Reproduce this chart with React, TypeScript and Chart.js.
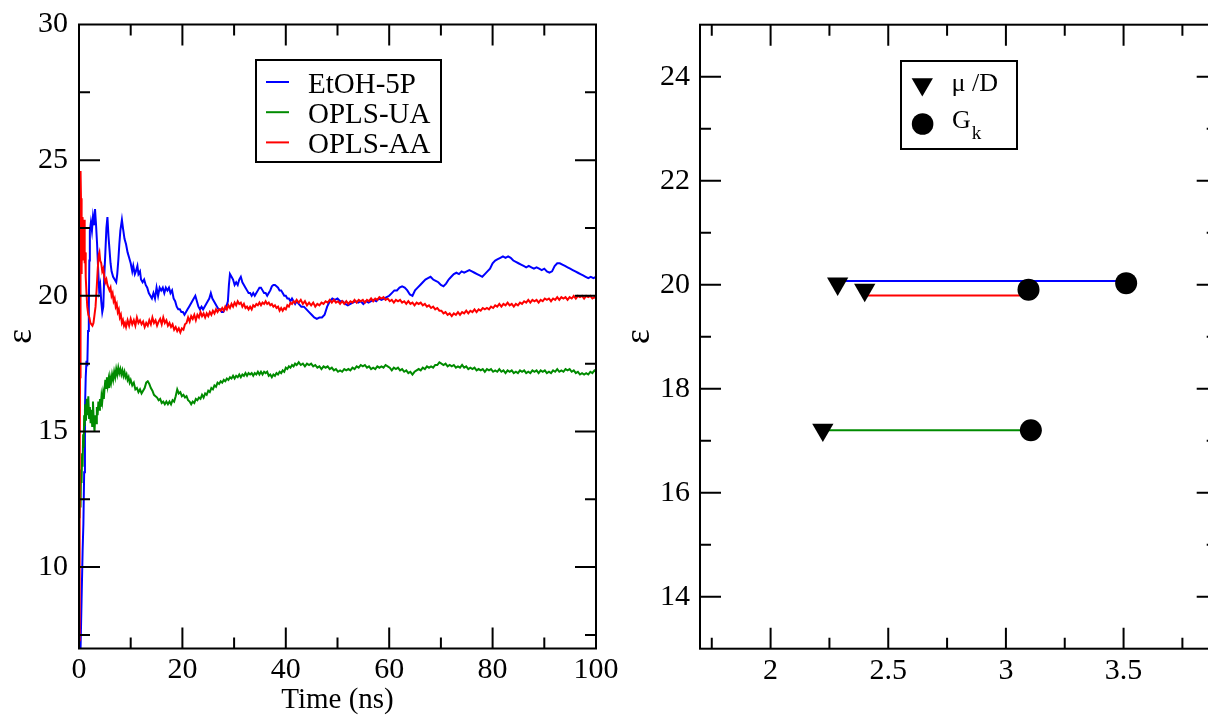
import React, { useEffect, useRef } from 'react';
import { Chart, registerables } from 'chart.js';

Chart.register(...registerables);

const SERIF = "'Liberation Serif', 'Times New Roman', Times, serif";

// ---------------- Left panel: running dielectric constant ----------------
const SERIES_LABELS = ['EtOH-5P', 'OPLS-UA', 'OPLS-AA'];
const SERIES_COLORS = ['#0000ff', '#008b00', '#ff0000'];
const TIME_TICKS = [0, 20, 40, 60, 80, 100];
const TIME_MINOR = [10, 30, 50, 70, 90];
const EPS_TICKS_LEFT = [10, 15, 20, 25, 30];
const EPS_MINOR_LEFT = [7.5, 12.5, 17.5, 22.5, 27.5];

const etoh5p: [number, number][] = [
  [0.1,5.0],[0.3,7.0],[0.5,8.8],[0.7,10.6],[0.85,11.6],[1.0,13.5],[1.15,15.8],[1.3,17.0],[1.45,17.6],[1.6,17.4],
  [1.75,18.7],[1.9,19.5],[2.0,21.3],[2.1,22.4],[2.3,22.7],[2.5,22.4],[2.7,22.9],[2.9,22.6],[3.1,23.2],[3.3,22.6],
  [3.5,21.9],[3.7,21.0],[3.9,20.2],[4.1,20.4],[4.3,19.8],[4.5,19.4],[4.7,19.6],[4.9,20.8],[5.1,21.6],[5.3,22.5],
  [5.5,22.9],[5.7,22.2],[5.9,21.7],[6.1,21.2],[6.3,20.9],[6.6,20.7],[6.9,20.6],[7.2,20.5],[7.4,20.8],[7.6,21.3],
  [7.8,21.9],[8.0,22.4],[8.3,22.8],[8.5,22.5],[8.8,22.1],[9.1,21.9],[9.4,21.6],[9.7,21.4],[10.0,21.2],[10.3,20.9],
  [10.5,21.1],[10.8,20.8],[11.0,20.9],[11.3,21.1],[11.5,20.8],[11.8,20.9],[12.0,20.6],[12.3,20.5],[12.6,20.6],[12.9,20.4],
  [13.2,20.3],[13.5,20.1],[13.8,20.0],[14.1,19.9],[14.4,20.1],[14.7,19.9],[15.0,20.3],[15.3,20.0],[15.6,20.3],[15.9,20.2],
  [16.2,20.3],[16.5,20.1],[16.8,20.3],[17.1,20.2],[17.4,20.3],[17.7,20.1],[18.0,20.2],[18.3,19.9],[18.6,19.8],[18.9,19.6],
  [19.2,19.5],[19.5,19.5],[19.8,19.4],[20.1,19.4],[20.4,19.3],[20.7,19.4],[21.0,19.5],[21.3,19.6],[21.6,19.7],[21.9,19.8],
  [22.2,19.9],[22.5,20.0],[22.8,19.8],[23.1,19.6],[23.4,19.5],[23.7,19.6],[24.0,19.5],[24.3,19.6],[24.6,19.7],[24.9,19.8],
  [25.2,19.9],[25.5,20.1],[25.8,19.9],[26.1,19.8],[26.4,19.7],[26.7,19.6],[27.0,19.5],[27.3,19.5],[27.6,19.4],[27.9,19.4],
  [28.2,19.5],[28.5,19.6],[28.8,19.8],[29.0,20.4],[29.2,20.8],[29.5,20.7],[29.8,20.6],[30.1,20.4],[30.4,20.5],[30.7,20.4],
  [31.0,20.6],[31.3,20.7],[31.6,20.5],[31.9,20.4],[32.2,20.3],[32.5,20.2],[32.8,20.1],[33.1,20.1],[33.4,20.0],[33.7,20.1],
  [34.0,20.0],[34.3,20.1],[34.6,20.2],[34.9,20.3],[35.2,20.3],[35.5,20.2],[35.8,20.1],[36.1,20.1],[36.4,20.0],[36.7,20.1],
  [37.0,20.2],[37.3,20.35],[37.6,20.4],[37.9,20.4],[38.2,20.35],[38.5,20.3],[38.8,20.2],[39.1,20.2],[39.4,20.1],[39.7,20.0],
  [40.0,20.0],[40.3,19.9],[40.6,19.9],[40.9,19.8],[41.2,19.9],[41.5,19.8],[41.8,19.7],[42.1,19.8],[42.5,19.7],[43.0,19.6],
  [43.5,19.6],[44.0,19.5],[44.5,19.4],[45.0,19.3],[45.5,19.2],[46.0,19.15],[46.5,19.2],[47.0,19.2],[47.5,19.3],[48.0,19.6],
  [48.5,19.8],[49.0,19.9],[49.5,19.85],[50.0,19.9],[50.5,19.8],[51.0,19.8],[51.5,19.7],[52.0,19.65],[52.5,19.7],[53.0,19.75],
  [53.5,19.8],[54.0,19.75],[54.5,19.8],[55.0,19.7],[55.5,19.8],[56.0,19.75],[56.5,19.8],[57.0,19.85],[57.5,19.8],[58.0,19.9],
  [58.5,19.85],[59.0,19.9],[59.5,19.95],[60.0,20.0],[60.5,20.1],[61.0,20.2],[61.5,20.2],[62.0,20.3],[62.5,20.35],[63.0,20.3],
  [63.5,20.2],[64.0,20.05],[64.5,20.0],[65.0,20.2],[65.5,20.3],[66.0,20.4],[66.5,20.5],[67.0,20.6],[67.5,20.65],[68.0,20.7],
  [68.5,20.6],[69.0,20.55],[69.5,20.5],[70.0,20.4],[70.5,20.35],[71.0,20.45],[71.5,20.6],[72.0,20.7],[72.5,20.8],[73.0,20.85],
  [73.5,20.8],[74.0,20.9],[74.5,20.85],[75.0,20.9],[75.5,20.95],[76.0,20.9],[76.5,20.85],[77.0,20.8],[77.5,20.75],[78.0,20.7],
  [78.5,20.8],[79.0,20.9],[79.5,21.0],[80.0,21.2],[80.5,21.3],[81.0,21.35],[81.5,21.4],[82.0,21.45],[82.5,21.4],[83.0,21.45],
  [83.5,21.4],[84.0,21.3],[84.5,21.25],[85.0,21.2],[85.5,21.15],[86.0,21.1],[86.5,21.05],[87.0,21.1],[87.5,21.05],[88.0,21.0],
  [88.5,21.05],[89.0,21.0],[89.5,20.95],[90.0,21.0],[90.5,20.9],[91.0,20.85],[91.5,20.9],[92.0,21.1],[92.5,21.2],[93.0,21.2],
  [93.5,21.15],[94.0,21.1],[94.5,21.05],[95.0,21.0],[95.5,20.95],[96.0,20.9],[96.5,20.85],[97.0,20.8],[97.5,20.75],[98.0,20.7],
  [98.5,20.65],[99.0,20.7],[99.5,20.65],[100.0,20.7],
];

const oplsUA: [number, number][] = [
  [0.0,12.0],[0.1,11.8],[0.2,12.6],[0.3,12.2],[0.4,13.6],[0.5,13.1],[0.6,14.2],[0.7,13.7],[0.8,14.9],[0.9,14.4],
  [1.0,15.6],[1.1,15.2],[1.2,16.0],[1.35,15.4],[1.5,16.2],[1.65,15.6],[1.8,16.3],[1.95,15.5],[2.1,15.9],[2.25,15.3],
  [2.4,15.8],[2.55,15.2],[2.7,16.1],[2.85,15.4],[3.0,15.0],[3.15,15.6],[3.3,15.3],[3.45,15.9],[3.6,15.6],[3.75,16.1],
  [3.9,15.8],[4.05,16.2],[4.2,15.9],[4.35,16.3],[4.5,16.1],[4.65,16.4],[4.8,16.2],[4.95,16.6],[5.1,16.9],[5.25,16.6],
  [5.4,17.0],[5.55,16.7],[5.7,16.9],[5.85,16.6],[6.0,17.0],[6.2,16.8],[6.4,17.1],[6.6,16.9],[6.8,17.2],[7.0,17.0],
  [7.2,17.3],[7.4,17.1],[7.6,17.35],[7.8,17.15],[8.0,17.3],[8.2,17.1],[8.4,17.25],[8.6,17.05],[8.8,17.2],[9.0,17.0],
  [9.2,17.1],[9.4,16.9],[9.6,17.0],[9.8,16.8],[10.0,16.9],[10.3,16.7],[10.6,16.8],[10.9,16.55],[11.2,16.6],[11.5,16.45],
  [11.8,16.55],[12.1,16.4],[12.4,16.5],[12.7,16.6],[13.0,16.8],[13.3,16.85],[13.6,16.75],[13.9,16.6],[14.2,16.5],[14.5,16.35],
  [14.8,16.3],[15.1,16.25],[15.4,16.15],[15.7,16.2],[16.0,16.05],[16.3,16.1],[16.6,16.0],[16.9,16.1],[17.2,16.0],[17.5,16.1],
  [17.8,16.0],[18.1,16.15],[18.4,16.1],[18.7,16.3],[19.0,16.55],[19.3,16.4],[19.6,16.45],[19.9,16.3],[20.2,16.35],[20.5,16.25],
  [20.8,16.3],[21.1,16.15],[21.4,16.1],[21.7,16.0],[22.0,16.1],[22.3,16.05],[22.6,16.2],[22.9,16.15],[23.2,16.25],[23.5,16.2],
  [23.8,16.35],[24.1,16.25],[24.4,16.4],[24.7,16.35],[25.0,16.5],[25.3,16.45],[25.6,16.6],[25.9,16.55],[26.2,16.7],[26.5,16.65],
  [26.8,16.8],[27.1,16.75],[27.4,16.85],[27.7,16.8],[28.0,16.9],[28.3,16.85],[28.6,16.95],[28.9,16.9],[29.2,17.0],[29.5,16.95],
  [29.8,17.05],[30.1,16.95],[30.4,17.05],[30.7,17.0],[31.0,17.1],[31.3,17.0],[31.6,17.1],[31.9,17.05],[32.2,17.15],[32.5,17.05],
  [32.8,17.15],[33.1,17.1],[33.4,17.15],[33.7,17.05],[34.0,17.15],[34.3,17.1],[34.6,17.2],[34.9,17.1],[35.2,17.2],[35.5,17.1],
  [35.8,17.2],[36.1,17.15],[36.4,17.2],[36.7,17.05],[37.0,17.1],[37.3,17.0],[37.6,17.1],[37.9,17.05],[38.2,17.15],[38.5,17.1],
  [38.8,17.2],[39.1,17.15],[39.4,17.25],[39.7,17.2],[40.0,17.35],[40.3,17.3],[40.6,17.4],[40.9,17.35],[41.2,17.45],[41.5,17.4],
  [41.8,17.5],[42.1,17.45],[42.5,17.55],[42.9,17.45],[43.3,17.5],[43.7,17.4],[44.1,17.5],[44.5,17.45],[44.9,17.5],[45.3,17.4],
  [45.7,17.45],[46.1,17.35],[46.5,17.4],[46.9,17.3],[47.3,17.4],[47.7,17.35],[48.1,17.4],[48.5,17.3],[48.9,17.35],[49.3,17.25],
  [49.7,17.3],[50.1,17.2],[50.5,17.25],[50.9,17.2],[51.3,17.3],[51.7,17.25],[52.1,17.3],[52.5,17.25],[52.9,17.35],[53.3,17.3],
  [53.7,17.4],[54.1,17.35],[54.5,17.45],[54.9,17.4],[55.3,17.45],[55.7,17.35],[56.1,17.4],[56.5,17.3],[56.9,17.35],[57.3,17.3],
  [57.7,17.4],[58.1,17.35],[58.5,17.4],[58.9,17.35],[59.3,17.45],[59.7,17.4],[60.1,17.35],[60.5,17.25],[60.9,17.35],[61.3,17.3],
  [61.7,17.35],[62.1,17.25],[62.5,17.3],[62.9,17.2],[63.3,17.25],[63.7,17.15],[64.1,17.2],[64.5,17.1],[64.9,17.2],[65.3,17.25],
  [65.7,17.3],[66.1,17.25],[66.5,17.35],[66.9,17.3],[67.3,17.4],[67.7,17.35],[68.1,17.4],[68.5,17.35],[68.9,17.45],[69.3,17.45],
  [69.7,17.55],[70.1,17.5],[70.5,17.45],[70.9,17.5],[71.3,17.4],[71.7,17.45],[72.1,17.4],[72.5,17.45],[72.9,17.35],[73.3,17.4],
  [73.7,17.35],[74.1,17.45],[74.5,17.35],[74.9,17.4],[75.3,17.3],[75.7,17.35],[76.1,17.3],[76.5,17.35],[76.9,17.25],[77.3,17.3],
  [77.7,17.25],[78.1,17.3],[78.5,17.2],[78.9,17.3],[79.3,17.25],[79.7,17.3],[80.1,17.2],[80.5,17.25],[80.9,17.2],[81.3,17.3],
  [81.7,17.2],[82.1,17.25],[82.5,17.15],[82.9,17.25],[83.3,17.2],[83.7,17.25],[84.1,17.15],[84.5,17.2],[84.9,17.15],[85.3,17.25],
  [85.7,17.2],[86.1,17.25],[86.5,17.15],[86.9,17.2],[87.3,17.15],[87.7,17.25],[88.1,17.2],[88.5,17.25],[88.9,17.15],[89.3,17.25],
  [89.7,17.2],[90.1,17.25],[90.5,17.15],[90.9,17.2],[91.3,17.15],[91.7,17.25],[92.1,17.2],[92.5,17.3],[92.9,17.2],[93.3,17.25],
  [93.7,17.2],[94.1,17.3],[94.5,17.25],[94.9,17.3],[95.3,17.2],[95.7,17.25],[96.1,17.15],[96.5,17.2],[96.9,17.1],[97.3,17.15],
  [97.7,17.1],[98.1,17.15],[98.5,17.1],[98.9,17.2],[99.3,17.15],[99.7,17.25],[100.0,17.2],
];

const oplsAA: [number, number][] = [
  [0.0,7.3],[0.1,10.5],[0.15,13.0],[0.2,17.0],[0.27,22.0],[0.33,24.6],[0.4,23.4],[0.45,20.8],[0.5,23.6],[0.57,21.0],
  [0.63,22.9],[0.7,21.3],[0.8,22.8],[0.9,21.9],[1.0,22.8],[1.1,21.2],[1.2,21.6],[1.3,20.7],[1.45,20.1],[1.6,19.6],
  [1.8,19.3],[2.0,19.2],[2.2,19.0],[2.4,18.95],[2.6,18.9],[2.8,19.0],[3.0,19.3],[3.2,19.6],[3.4,20.2],[3.6,20.9],
  [3.8,21.5],[3.95,21.6],[4.1,21.3],[4.3,21.2],[4.5,20.9],[4.7,21.0],[4.9,20.7],[5.1,20.5],[5.3,20.6],[5.5,20.4],
  [5.7,20.3],[5.9,20.2],[6.1,20.3],[6.3,20.0],[6.5,20.1],[6.7,19.8],[6.9,19.9],[7.1,19.6],[7.3,19.7],[7.5,19.4],
  [7.7,19.5],[7.9,19.2],[8.1,19.3],[8.3,19.0],[8.5,19.1],[8.7,18.9],[8.9,19.0],[9.1,18.85],[9.4,19.1],[9.7,18.9],
  [10.0,19.15],[10.3,18.95],[10.6,19.1],[10.9,18.9],[11.2,19.2],[11.5,19.0],[11.8,19.1],[12.1,18.95],[12.4,19.05],[12.7,18.85],
  [13.0,19.0],[13.3,18.9],[13.6,19.1],[13.9,18.95],[14.2,19.2],[14.5,19.0],[14.8,19.1],[15.1,18.9],[15.4,19.05],[15.7,19.15],
  [16.0,18.95],[16.3,19.2],[16.6,19.0],[16.9,19.1],[17.2,18.9],[17.5,19.0],[17.8,18.85],[18.1,18.95],[18.4,18.75],[18.7,18.85],
  [19.0,18.7],[19.3,18.8],[19.6,18.65],[19.9,18.8],[20.2,18.75],[20.5,18.95],[20.8,19.0],[21.1,19.2],[21.4,19.05],[21.7,19.25],
  [22.0,19.15],[22.3,19.3],[22.6,19.1],[22.9,19.3],[23.2,19.2],[23.5,19.4],[23.8,19.25],[24.1,19.35],[24.4,19.2],[24.7,19.35],
  [25.0,19.25],[25.3,19.4],[25.6,19.3],[25.9,19.45],[26.2,19.35],[26.5,19.5],[26.8,19.4],[27.1,19.5],[27.4,19.45],[27.7,19.55],
  [28.0,19.45],[28.3,19.6],[28.6,19.5],[28.9,19.65],[29.2,19.55],[29.5,19.7],[29.8,19.6],[30.1,19.75],[30.4,19.65],[30.7,19.8],
  [31.0,19.7],[31.3,19.75],[31.6,19.6],[31.9,19.7],[32.2,19.55],[32.5,19.6],[32.8,19.5],[33.1,19.6],[33.4,19.5],[33.7,19.65],
  [34.0,19.6],[34.3,19.7],[34.6,19.65],[34.9,19.75],[35.2,19.65],[35.5,19.75],[35.8,19.7],[36.1,19.8],[36.4,19.7],[36.7,19.75],
  [37.0,19.65],[37.3,19.7],[37.6,19.6],[37.9,19.65],[38.2,19.55],[38.5,19.6],[38.8,19.45],[39.1,19.55],[39.4,19.45],[39.7,19.55],
  [40.0,19.5],[40.3,19.65],[40.6,19.6],[40.9,19.75],[41.2,19.7],[41.5,19.8],[41.8,19.75],[42.1,19.85],[42.5,19.75],[42.9,19.85],
  [43.3,19.7],[43.7,19.8],[44.1,19.65],[44.5,19.75],[44.9,19.65],[45.3,19.75],[45.7,19.6],[46.1,19.7],[46.5,19.65],[46.9,19.75],
  [47.3,19.7],[47.7,19.8],[48.1,19.75],[48.5,19.85],[48.9,19.75],[49.3,19.85],[49.7,19.75],[50.1,19.8],[50.5,19.7],[50.9,19.8],
  [51.3,19.7],[51.7,19.8],[52.1,19.7],[52.5,19.8],[52.9,19.75],[53.3,19.85],[53.7,19.75],[54.1,19.85],[54.5,19.8],[54.9,19.85],
  [55.3,19.75],[55.7,19.85],[56.1,19.8],[56.5,19.9],[56.9,19.8],[57.3,19.9],[57.7,19.85],[58.1,19.95],[58.5,19.9],[58.9,19.95],
  [59.3,19.85],[59.7,19.9],[60.1,19.8],[60.5,19.85],[60.9,19.75],[61.3,19.85],[61.7,19.8],[62.1,19.85],[62.5,19.75],[62.9,19.8],
  [63.3,19.7],[63.7,19.8],[64.1,19.7],[64.5,19.75],[64.9,19.65],[65.3,19.75],[65.7,19.7],[66.1,19.75],[66.5,19.65],[66.9,19.7],
  [67.3,19.6],[67.7,19.65],[68.1,19.55],[68.5,19.6],[68.9,19.5],[69.3,19.55],[69.7,19.45],[70.1,19.45],[70.5,19.35],[70.9,19.4],
  [71.3,19.3],[71.7,19.35],[72.1,19.25],[72.5,19.35],[72.9,19.3],[73.3,19.4],[73.7,19.3],[74.1,19.4],[74.5,19.35],[74.9,19.45],
  [75.3,19.35],[75.7,19.45],[76.1,19.4],[76.5,19.5],[76.9,19.4],[77.3,19.5],[77.7,19.45],[78.1,19.55],[78.5,19.5],[78.9,19.55],
  [79.3,19.5],[79.7,19.6],[80.1,19.55],[80.5,19.65],[80.9,19.6],[81.3,19.7],[81.7,19.6],[82.1,19.7],[82.5,19.65],[82.9,19.75],
  [83.3,19.65],[83.7,19.7],[84.1,19.6],[84.5,19.7],[84.9,19.65],[85.3,19.75],[85.7,19.7],[86.1,19.8],[86.5,19.75],[86.9,19.85],
  [87.3,19.75],[87.7,19.85],[88.1,19.8],[88.5,19.85],[88.9,19.75],[89.3,19.85],[89.7,19.8],[90.1,19.9],[90.5,19.85],[90.9,19.9],
  [91.3,19.8],[91.7,19.9],[92.1,19.85],[92.5,19.95],[92.9,19.85],[93.3,19.95],[93.7,19.9],[94.1,19.95],[94.5,19.85],[94.9,19.95],
  [95.3,19.9],[95.7,20.0],[96.1,19.9],[96.5,20.0],[96.9,19.95],[97.3,20.0],[97.7,19.9],[98.1,20.0],[98.5,19.95],[98.9,20.0],
  [99.3,19.9],[99.7,19.95],[100.0,19.9],
];

// ---------------- Right panel: epsilon vs dipole moment / Gk ----------------
const MODEL_COLORS = ['#0000ff', '#008b00', '#ff0000']; // EtOH-5P, OPLS-UA, OPLS-AA
const dipoleMu = [2.285, 2.222, 2.40];
const epsAtMu = [20.02, 17.21, 19.9];
const kirkwoodGk = [3.511, 3.106, 3.096];
const epsAtGk = [20.03, 17.2, 19.905];
const linkStart = [2.283, 2.226, 2.396];
const linkEnd = [3.513, 3.109, 3.103];
const linkEps = [20.07, 17.2, 19.79];
const X_TICKS_RIGHT = [2, 2.5, 3, 3.5];
const X_MINOR_RIGHT = [1.75, 2.25, 2.75, 3.25, 3.75];
const EPS_TICKS_RIGHT = [14, 16, 18, 20, 22, 24];
const EPS_MINOR_RIGHT = [15, 17, 19, 21, 23];

// ---------------- helpers ----------------
function framePlugin(cfg: { xMajor: number[]; xMinor: number[]; yMajor: number[]; yMinor: number[] }) {
  return {
    id: 'frameTicks',
    afterDatasetsDraw(chart: any) {
      const { ctx, chartArea: a, scales } = chart;
      const xs = scales.x;
      const ys = scales.y;
      ctx.save();
      ctx.strokeStyle = '#000';
      ctx.lineWidth = 2;
      ctx.lineCap = 'butt';
      ctx.beginPath();
      const hx = (vals: number[], len: number) => {
        for (const v of vals) {
          const p = xs.getPixelForValue(v);
          if (p <= a.left + 1 || p >= a.right - 1) continue;
          ctx.moveTo(p, a.bottom);
          ctx.lineTo(p, a.bottom - len);
          ctx.moveTo(p, a.top);
          ctx.lineTo(p, a.top + len);
        }
      };
      const hy = (vals: number[], len: number) => {
        for (const v of vals) {
          const p = ys.getPixelForValue(v);
          if (p <= a.top + 1 || p >= a.bottom - 1) continue;
          ctx.moveTo(a.left, p);
          ctx.lineTo(a.left + len, p);
          ctx.moveTo(a.right, p);
          ctx.lineTo(a.right - len, p);
        }
      };
      hx(cfg.xMajor, 21);
      hx(cfg.xMinor, 11);
      hy(cfg.yMajor, 21);
      hy(cfg.yMinor, 11);
      ctx.stroke();
      ctx.strokeRect(a.left, a.top, a.right - a.left, a.bottom - a.top);
      ctx.restore();
    },
  };
}

const leftLegendPlugin = {
  id: 'leftLegend',
  afterDraw(chart: any) {
    const { ctx } = chart;
    ctx.save();
    ctx.fillStyle = '#fff';
    ctx.fillRect(256, 60, 185, 102);
    ctx.strokeStyle = '#000';
    ctx.lineWidth = 2;
    ctx.strokeRect(256, 60, 185, 102);
    ctx.font = `29px ${SERIF}`;
    ctx.textBaseline = 'alphabetic';
    ctx.textAlign = 'left';
    SERIES_LABELS.forEach((label, i) => {
      const cy = 82 + i * 30.2;
      ctx.strokeStyle = SERIES_COLORS[i];
      ctx.lineWidth = 2;
      ctx.beginPath();
      ctx.moveTo(266, cy);
      ctx.lineTo(289, cy);
      ctx.stroke();
      ctx.fillStyle = '#000';
      ctx.fillText(label, 308, cy + 11);
    });
    ctx.restore();
  },
};

const rightLegendPlugin = {
  id: 'rightLegend',
  afterDraw(chart: any) {
    const { ctx } = chart;
    ctx.save();
    ctx.fillStyle = '#fff';
    ctx.fillRect(301, 61, 116, 88);
    ctx.strokeStyle = '#000';
    ctx.lineWidth = 2;
    ctx.strokeRect(301, 61, 116, 88);
    // triangle symbol
    const r = 12.3;
    const tx = 322.3, ty = 84.3;
    ctx.fillStyle = '#000';
    ctx.beginPath();
    ctx.moveTo(tx, ty + r);
    ctx.lineTo(tx - r * Math.sin(Math.PI / 3), ty - r / 2);
    ctx.lineTo(tx + r * Math.sin(Math.PI / 3), ty - r / 2);
    ctx.closePath();
    ctx.fill();
    // circle symbol
    ctx.beginPath();
    ctx.arc(322.6, 124, 10.8, 0, Math.PI * 2);
    ctx.fill();
    ctx.textBaseline = 'alphabetic';
    ctx.textAlign = 'left';
    ctx.font = `26px ${SERIF}`;
    ctx.fillText('\u03BC /D', 351.5, 90.7);
    ctx.fillText('G', 352, 128.3);
    const gw = ctx.measureText('G').width;
    ctx.font = `19px ${SERIF}`;
    ctx.fillText('k', 352 + gw + 1, 139.3);
    ctx.restore();
  },
};

function zeroPad(s: any) {
  s.paddingLeft = 0;
  s.paddingRight = 0;
  s.paddingTop = 0;
  s.paddingBottom = 0;
}

const tickFont = { family: SERIF, size: 30 };
const epsTitleFont = { family: SERIF, size: 35, lineHeight: 1 };

function leftConfig(): any {
  const series = [etoh5p, oplsUA, oplsAA];
  const orders = [3, 2, 1];
  return {
    type: 'scatter',
    data: {
      datasets: series.map((pts, i) => ({
        label: SERIES_LABELS[i],
        data: pts.map(([x, y]) => ({ x, y })),
        showLine: true,
        borderColor: SERIES_COLORS[i],
        backgroundColor: SERIES_COLORS[i],
        borderWidth: 2,
        pointRadius: 0,
        tension: 0,
        order: orders[i],
      })),
    },
    options: {
      animation: false,
      responsive: false,
      devicePixelRatio: 1,
      layout: { padding: { left: 0, top: 24.5, right: 44, bottom: 0 } },
      plugins: { legend: { display: false }, tooltip: { enabled: false } },
      scales: {
        x: {
          type: 'linear',
          min: 0,
          max: 100,
          grid: { display: false, drawTicks: false },
          border: { display: false },
          ticks: { font: tickFont, color: '#000', padding: 4, maxRotation: 0, autoSkip: false, callback: (v: any) => String(v) },
          title: { display: true, text: 'Time (ns)', color: '#000', font: { family: SERIF, size: 29, lineHeight: 1 }, padding: { top: 0, bottom: 2 } },
          afterBuildTicks: (s: any) => { s.ticks = TIME_TICKS.map((value) => ({ value })); },
          afterFit: (s: any) => { s.height = 717 - 648.5; zeroPad(s); },
        },
        y: {
          type: 'linear',
          min: 7,
          max: 30,
          grid: { display: false, drawTicks: false },
          border: { display: false },
          ticks: { font: tickFont, color: '#000', padding: 11, autoSkip: false, callback: (v: any) => String(v) },
          title: { display: true, text: '\u03B5', color: '#000', font: epsTitleFont, padding: { top: 4, bottom: 0 } },
          afterBuildTicks: (s: any) => { s.ticks = EPS_TICKS_LEFT.map((value) => ({ value })); },
          afterFit: (s: any) => { s.width = 79; zeroPad(s); },
        },
      },
    },
    plugins: [
      framePlugin({ xMajor: TIME_TICKS, xMinor: TIME_MINOR, yMajor: EPS_TICKS_LEFT, yMinor: EPS_MINOR_LEFT }),
      leftLegendPlugin,
    ],
  };
}

function rightConfig(): any {
  const links = MODEL_COLORS.map((c, i) => ({
    label: 'link' + i,
    data: [
      { x: linkStart[i], y: linkEps[i] },
      { x: linkEnd[i], y: linkEps[i] },
    ],
    showLine: true,
    borderColor: c,
    backgroundColor: c,
    borderWidth: 2,
    pointRadius: 0,
    order: 3,
  }));
  return {
    type: 'scatter',
    data: {
      datasets: [
        ...links,
        {
          label: '\u03BC /D',
          data: dipoleMu.map((x, i) => ({ x, y: epsAtMu[i] })),
          showLine: false,
          pointStyle: 'triangle',
          rotation: 180,
          pointRadius: 12.3,
          pointBorderWidth: 0,
          backgroundColor: '#000',
          borderColor: '#000',
          order: 1,
        },
        {
          label: 'Gk',
          data: kirkwoodGk.map((x, i) => ({ x, y: epsAtGk[i] })),
          showLine: false,
          pointStyle: 'circle',
          pointRadius: 11,
          pointBorderWidth: 0,
          backgroundColor: '#000',
          borderColor: '#000',
          order: 2,
        },
      ],
    },
    options: {
      animation: false,
      responsive: false,
      devicePixelRatio: 1,
      layout: { padding: { left: 0, top: 24.7, right: 11.5, bottom: 0 } },
      plugins: { legend: { display: false }, tooltip: { enabled: false } },
      scales: {
        x: {
          type: 'linear',
          min: 1.7,
          max: 3.9,
          grid: { display: false, drawTicks: false },
          border: { display: false },
          ticks: { font: tickFont, color: '#000', padding: 4, maxRotation: 0, autoSkip: false, callback: (v: any) => String(v) },
          afterBuildTicks: (s: any) => { s.ticks = X_TICKS_RIGHT.map((value) => ({ value })); },
          afterFit: (s: any) => { s.height = 717 - 648.7; zeroPad(s); },
        },
        y: {
          type: 'linear',
          min: 13,
          max: 25,
          grid: { display: false, drawTicks: false },
          border: { display: false },
          ticks: { font: tickFont, color: '#000', padding: 10, autoSkip: false, callback: (v: any) => String(v) },
          title: { display: true, text: '\u03B5', color: '#000', font: epsTitleFont, padding: { top: 22, bottom: 0 } },
          afterBuildTicks: (s: any) => { s.ticks = EPS_TICKS_RIGHT.map((value) => ({ value })); },
          afterFit: (s: any) => { s.width = 100; zeroPad(s); },
        },
      },
    },
    plugins: [
      framePlugin({ xMajor: X_TICKS_RIGHT, xMinor: X_MINOR_RIGHT, yMajor: EPS_TICKS_RIGHT, yMinor: EPS_MINOR_RIGHT }),
      rightLegendPlugin,
    ],
  };
}

export default function App() {
  const leftRef = useRef<HTMLCanvasElement>(null);
  const rightRef = useRef<HTMLCanvasElement>(null);

  useEffect(() => {
    const c1 = new Chart(leftRef.current as HTMLCanvasElement, leftConfig());
    const c2 = new Chart(rightRef.current as HTMLCanvasElement, rightConfig());
    return () => {
      c1.destroy();
      c2.destroy();
    };
  }, []);

  return (
    <div
      style={{
        position: 'fixed',
        left: 0,
        top: 0,
        width: 1208,
        height: 717,
        overflow: 'hidden',
        background: '#fff',
      }}
    >
      <canvas
        ref={leftRef}
        width={640}
        height={717}
        style={{ position: 'absolute', left: 0, top: 0, width: 640, height: 717 }}
      />
      <canvas
        ref={rightRef}
        width={630}
        height={717}
        style={{ position: 'absolute', left: 600, top: 0, width: 630, height: 717 }}
      />
    </div>
  );
}
